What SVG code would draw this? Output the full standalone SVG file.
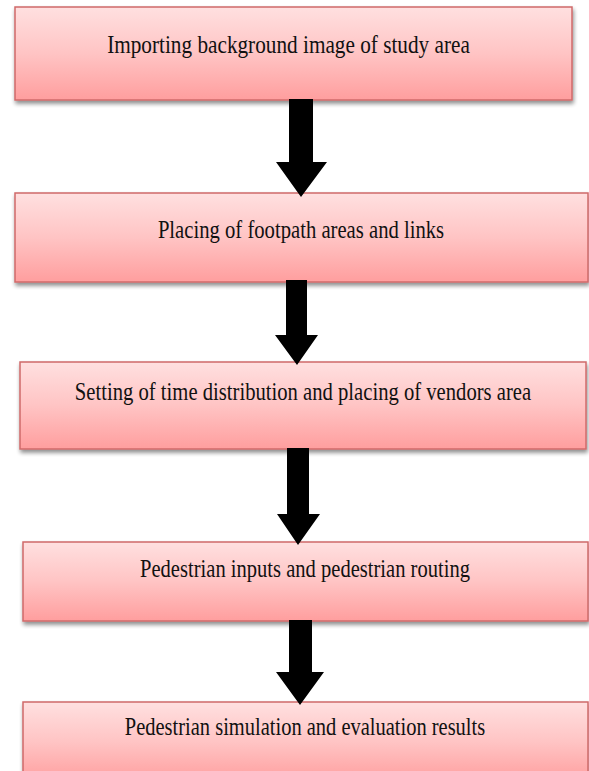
<svg xmlns="http://www.w3.org/2000/svg" width="589" height="771" viewBox="0 0 589 771">
<defs>
<linearGradient id="g" x1="0" y1="0" x2="0" y2="1">
<stop offset="0" stop-color="#ffe0e0"/>
<stop offset="0.5" stop-color="#ffc4c4"/>
<stop offset="1" stop-color="#ff9e9e"/>
</linearGradient>
<filter id="sh" x="-5%" y="-10%" width="110%" height="130%">
<feGaussianBlur in="SourceAlpha" stdDeviation="2"/>
<feOffset dx="1" dy="3" result="b"/>
<feComponentTransfer><feFuncA type="linear" slope="0.45"/></feComponentTransfer>
<feMerge><feMergeNode/><feMergeNode in="SourceGraphic"/></feMerge>
</filter>
</defs>
<style>
.box{fill:url(#g);stroke:#d06a6a;stroke-width:1.5;filter:url(#sh)}
.t{font-family:"Liberation Serif","Times New Roman",serif;font-size:26px;fill:#111;text-anchor:middle}
.arr{fill:#000}
</style>
<rect width="589" height="771" fill="#fff"/>
<g id="n1"><rect class="box" x="15" y="7" width="557" height="93"/><g transform="translate(288.5,53) scale(0.78,1)"><text class="t" x="0" y="0" textLength="465" lengthAdjust="spacingAndGlyphs">Importing background image of study area</text></g></g>
<g id="n2"><rect class="box" x="15" y="193" width="573" height="89"/><g transform="translate(301,238) scale(0.78,1)"><text class="t" x="0" y="0" textLength="367" lengthAdjust="spacingAndGlyphs">Placing of footpath areas and links</text></g></g>
<g id="n3"><rect class="box" x="20" y="362" width="566" height="87"/><g transform="translate(303,400) scale(0.78,1)"><text class="t" x="0" y="0" textLength="585" lengthAdjust="spacingAndGlyphs">Setting of time distribution and placing of vendors area</text></g></g>
<g id="n4"><rect class="box" x="23" y="542" width="565" height="79"/><g transform="translate(305,577) scale(0.78,1)"><text class="t" x="0" y="0" textLength="423" lengthAdjust="spacingAndGlyphs">Pedestrian inputs and pedestrian routing</text></g></g>
<g id="n5"><rect class="box" x="23" y="702" width="565" height="80"/><g transform="translate(305,735) scale(0.78,1)"><text class="t" x="0" y="0" textLength="462" lengthAdjust="spacingAndGlyphs">Pedestrian simulation and evaluation results</text></g></g>
<g id="connectors">
<polygon class="arr" points="289,99 313,99 313,162 327,162 301,197 276,162 289,162"/>
<polygon class="arr" points="286,280 307,280 307,335 318,335 297,365 275,335 286,335"/>
<polygon class="arr" points="287,448 309,448 309,514 320,514 298,545 277,514 287,514"/>
<polygon class="arr" points="289,620 312,620 312,672 324,672 300,705 276,672 289,672"/>
</g>
</svg>
